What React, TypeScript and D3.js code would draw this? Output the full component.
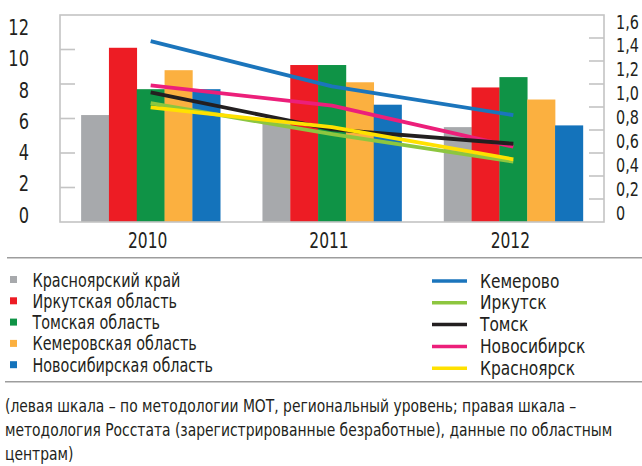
import * as d3 from "d3";
import type { ReactNode } from "react";

const WIDTH = 642;
const HEIGHT = 466;
const PLOT = { left: 60, right: 604, top: 15, bottom: 222 };
const FONT = "'Liberation Sans Narrow', 'DejaVu Sans Condensed', 'Roboto Condensed', 'Liberation Sans', sans-serif";
const TEXT_COLOR = "#231f20";
const FRAME_COLOR = "#c4c4c4";
const NARROW = 0.86; // the source font is a narrow one, squeeze ours to fit

const YEARS = ["2010", "2011", "2012"];

// bars, left scale (%)
const BAR_LABELS = ["Красноярский край", "Иркутская область", "Томская область", "Кемеровская область", "Новосибирская область"];
const BAR_COLORS = ["#a7a9ac", "#ed1c24", "#0f9346", "#fbb040", "#1473bb"];
const KRASNOYARSK_KRAI = [6.2, 5.8, 5.5];
const IRKUTSK_OBL = [10.1, 9.1, 7.8];
const TOMSK_OBL = [7.7, 9.1, 8.4];
const KEMEROVO_OBL = [8.8, 8.1, 7.1];
const NOVOSIBIRSK_OBL = [7.7, 6.8, 5.6];
const BAR_VALUES = [KRASNOYARSK_KRAI, IRKUTSK_OBL, TOMSK_OBL, KEMEROVO_OBL, NOVOSIBIRSK_OBL];

// lines, right scale (%)
const LINE_LABELS = ["Кемерово", "Иркутск", "Томск", "Новосибирск", "Красноярск"];
const LINE_COLORS = ["#1b75bc", "#8dc63f", "#231f20", "#ec1f7a", "#ffe100"];
const KEMEROVO = [1.44, 1.06, 0.82];
const IRKUTSK = [0.92, 0.66, 0.43];
const TOMSK = [1.01, 0.7, 0.58];
const NOVOSIBIRSK = [1.07, 0.9, 0.555];
const KRASNOYARSK = [0.885, 0.72, 0.45];
const LINE_VALUES = [KEMEROVO, IRKUTSK, TOMSK, NOVOSIBIRSK, KRASNOYARSK];
const LINE_DRAW_ORDER = [0, 3, 1, 2, 4];

const LEFT_TICKS = [0, 2, 4, 6, 8, 10, 12];
const RIGHT_TICKS = [0, 0.2, 0.4, 0.6, 0.8, 1.0, 1.2, 1.4, 1.6];
const RIGHT_TICK_LABELS = ["0", "0,2", "0,4", "0,6", "0,8", "1,0", "1,2", "1,4", "1,6"];
const RIGHT_TICK_MARKS = 9; // the frame on the right is cut in nine equal parts

const NOTE_LINES = [
  "(левая шкала – по методологии МОТ, региональный уровень; правая шкала –",
  "методология Росстата (зарегистрированные безработные), данные по областным",
  "центрам)",
];

function NarrowText({
  x,
  y,
  size,
  anchor = "start",
  k = NARROW,
  children,
}: {
  x: number;
  y: number;
  size: number;
  anchor?: "start" | "middle" | "end";
  k?: number;
  children: ReactNode;
}) {
  return (
    <text transform={`translate(${x},${y}) scale(${k},1)`} textAnchor={anchor} fontSize={size}>
      {children}
    </text>
  );
}

export default function App() {
  const x = d3.scaleBand().domain(YEARS).range([PLOT.left, PLOT.right]).paddingInner(0.233).paddingOuter(0.1165);
  const xInner = d3.scaleBand().domain(d3.range(BAR_LABELS.length).map(String)).range([0, x.bandwidth()]);
  const yLeft = d3.scaleLinear().domain([0, 12]).range([PLOT.bottom, PLOT.top]);
  const yLeftLabel = d3.scaleLinear().domain([0, 12]).range([222.5, 35]);
  const yRight = d3.scaleLinear().domain([0, 1.6]).range([213, 22]);
  const yRightLabel = d3.scaleLinear().domain([0, 1.6]).range([220, 28.5]);
  const yRightMarks = d3.scaleLinear().domain([0, RIGHT_TICK_MARKS]).range([PLOT.bottom, PLOT.top]);

  const line = d3
    .line<number>()
    .x((_, i) => (x(YEARS[i]) ?? 0) + x.bandwidth() / 2)
    .y((v) => yRight(v));

  return (
    <svg
      width={WIDTH}
      height={HEIGHT}
      viewBox={`0 0 ${WIDTH} ${HEIGHT}`}
      style={{ position: "absolute", left: 0, top: 0, background: "#fff" }}
      fontFamily={FONT}
      fill={TEXT_COLOR}
    >
      {/* bars */}
      {YEARS.map((year, yi) => (
        <g key={year} transform={`translate(${x(year)},0)`}>
          {BAR_VALUES.map((series, si) => (
            <rect
              key={si}
              x={xInner(String(si))}
              y={yLeft(series[yi])}
              width={xInner.bandwidth() + 0.3}
              height={PLOT.bottom - yLeft(series[yi])}
              fill={BAR_COLORS[si]}
            />
          ))}
        </g>
      ))}

      {/* frame */}
      <rect
        x={PLOT.left}
        y={PLOT.top}
        width={PLOT.right - PLOT.left}
        height={PLOT.bottom - PLOT.top}
        fill="none"
        stroke={FRAME_COLOR}
        strokeWidth={1.6}
      />
      {LEFT_TICKS.filter((t) => t > 0 && t < 12).map((t) => (
        <line key={`lt-${t}`} x1={PLOT.left} x2={PLOT.left + 15} y1={yLeft(t)} y2={yLeft(t)} stroke={FRAME_COLOR} strokeWidth={1.6} />
      ))}
      {d3.range(1, RIGHT_TICK_MARKS).map((i) => (
        <line key={`rt-${i}`} x1={PLOT.right - 15} x2={PLOT.right} y1={yRightMarks(i)} y2={yRightMarks(i)} stroke={FRAME_COLOR} strokeWidth={1.6} />
      ))}

      {/* lines */}
      {LINE_DRAW_ORDER.map((li) => (
        <path
          key={LINE_LABELS[li]}
          d={line(LINE_VALUES[li]) ?? ""}
          fill="none"
          stroke={LINE_COLORS[li]}
          strokeWidth={3.8}
          strokeLinejoin="round"
        />
      ))}

      {/* axis labels */}
      {LEFT_TICKS.map((t) => (
        <NarrowText key={`ll-${t}`} x={29} y={yLeftLabel(t)} anchor="end" size={22} k={0.82}>
          {t}
        </NarrowText>
      ))}
      {RIGHT_TICKS.map((t, i) => (
        <NarrowText key={`rl-${t}`} x={616} y={yRightLabel(t)} size={20} k={0.8}>
          {RIGHT_TICK_LABELS[i]}
        </NarrowText>
      ))}
      {YEARS.map((year) => (
        <NarrowText key={`x-${year}`} x={(x(year) ?? 0) + x.bandwidth() / 2 - 3} y={248} anchor="middle" size={21} k={0.82}>
          {year}
        </NarrowText>
      ))}

      <line x1={7} x2={WIDTH} y1={257.7} y2={257.7} stroke="#9d9d9d" strokeWidth={1.5} />

      {/* legend: bars */}
      {BAR_LABELS.map((label, i) => {
        const cy = 279.5 + i * 21.3;
        return (
          <g key={label}>
            <rect x={10} y={cy - 3.5} width={7} height={7} fill={BAR_COLORS[i]} />
            <NarrowText x={32.5} y={cy + 7} size={19.5} k={0.82}>
              {label}
            </NarrowText>
          </g>
        );
      })}

      {/* legend: lines */}
      {LINE_LABELS.map((label, i) => {
        const cy = 281 + i * 21.8;
        return (
          <g key={label}>
            <line x1={432} x2={467} y1={cy} y2={cy} stroke={LINE_COLORS[i]} strokeWidth={3.5} />
            <NarrowText x={480} y={cy + 6.5} size={19.5} k={0.88}>
              {label}
            </NarrowText>
          </g>
        );
      })}

      <line x1={5} x2={WIDTH} y1={381.7} y2={381.7} stroke="#9d9d9d" strokeWidth={1.5} />

      {NOTE_LINES.map((t, i) => (
        <NarrowText key={i} x={5} y={412.3 + i * 24} size={18.5} k={0.835}>
          {t}
        </NarrowText>
      ))}
    </svg>
  );
}
